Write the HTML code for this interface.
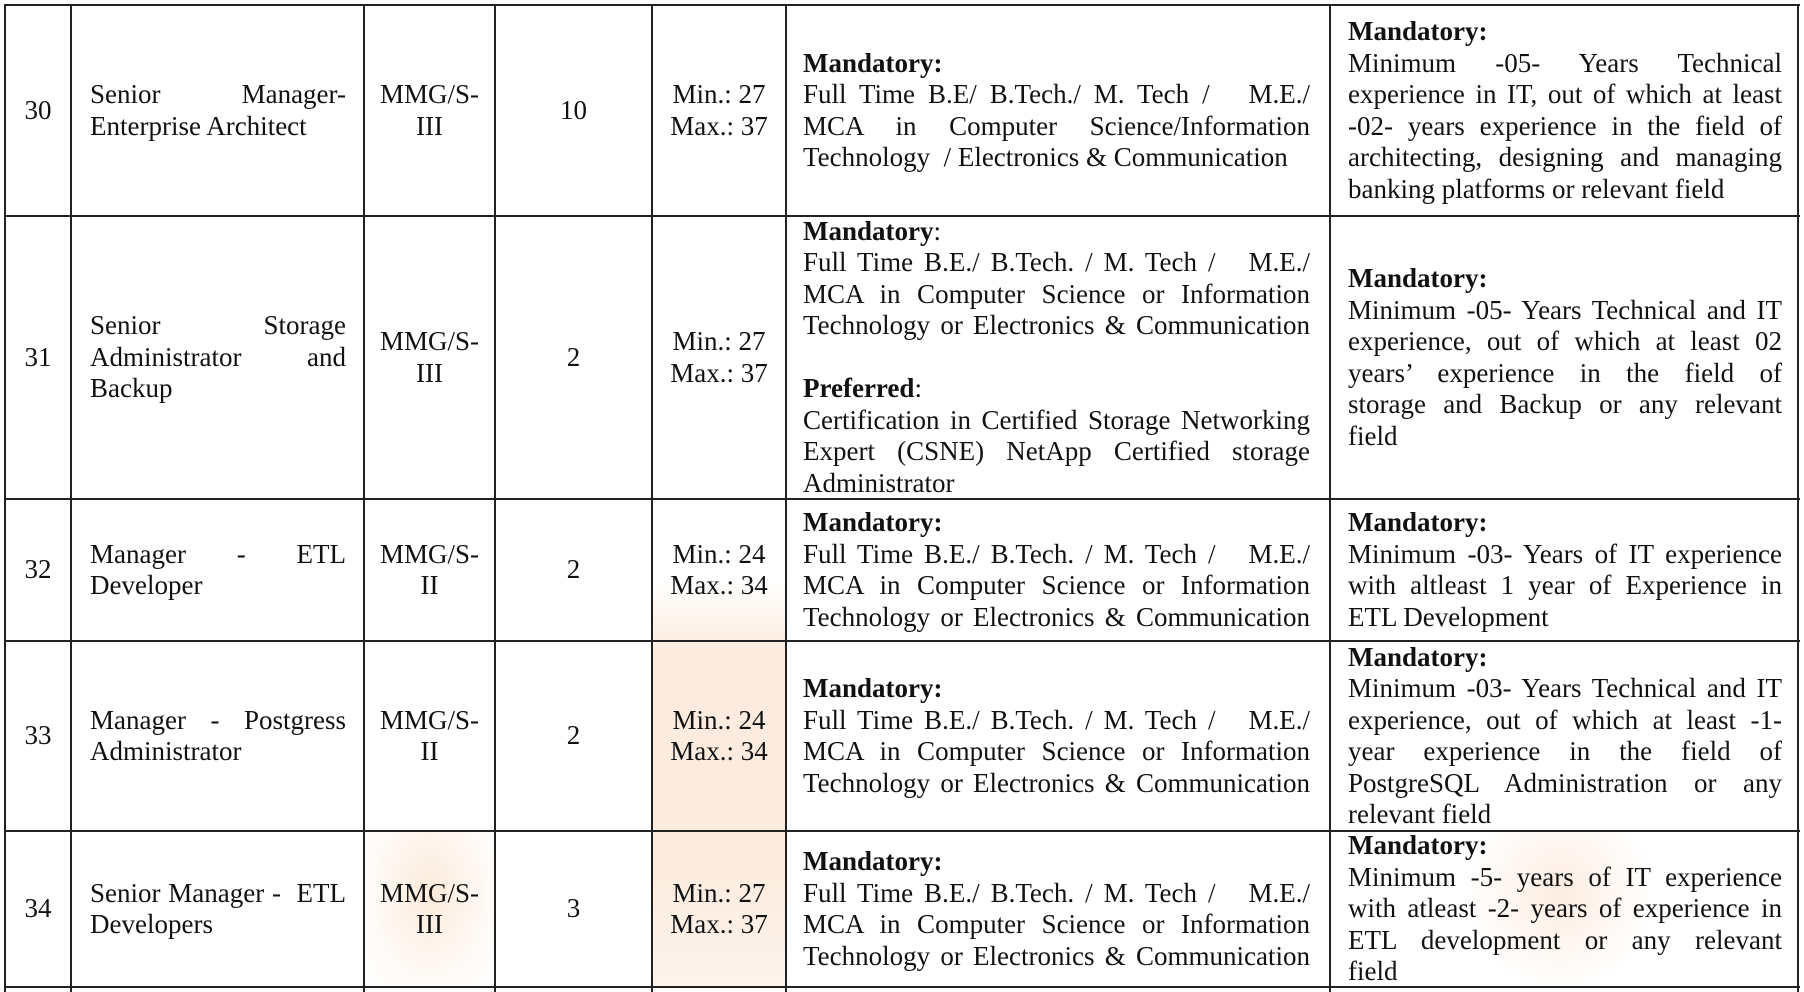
<!DOCTYPE html>
<html><head><meta charset="utf-8">
<style>
html,body{margin:0;padding:0;background:#fff;}
body{width:1804px;height:992px;position:relative;overflow:hidden;font-family:"Liberation Serif",serif;font-size:27px;color:#111;}
.c{position:absolute;display:flex;flex-direction:column;justify-content:center;box-sizing:border-box;line-height:31.5px;}
.ctr{align-items:center;text-align:center;}
.j{text-align:justify;text-align-last:justify;white-space:nowrap;}
.l{text-align:left;white-space:nowrap;}
b{font-weight:bold;}
.h{position:absolute;height:2px;background:#222;left:4px;width:1796px;}
.v{position:absolute;width:2px;background:#222;top:4px;height:988px;}
.blob{position:absolute;}
</style></head><body>
<div class="blob" style="left:653px;top:580px;width:132px;height:407px;background:linear-gradient(180deg,rgba(250,220,195,0) 0%,rgba(250,222,200,.6) 18%,rgba(250,225,205,.65) 70%,rgba(250,230,215,.45) 100%);"></div>
<div class="blob" style="left:366px;top:832px;width:128px;height:155px;background:radial-gradient(ellipse at 50% 40%,rgba(250,215,185,.5),rgba(250,230,210,.15) 70%,rgba(255,255,255,0) 100%);"></div>
<div class="blob" style="left:1470px;top:832px;width:180px;height:155px;background:radial-gradient(ellipse at 50% 40%,rgba(250,210,180,.4),rgba(255,255,255,0) 75%);"></div>

<div class="h" style="top:4px"></div>
<div class="h" style="top:215px"></div>
<div class="h" style="top:498px"></div>
<div class="h" style="top:640px"></div>
<div class="h" style="top:830px"></div>
<div class="h" style="top:986px"></div>
<div class="v" style="left:4px"></div>
<div class="v" style="left:70px"></div>
<div class="v" style="left:363px"></div>
<div class="v" style="left:494px"></div>
<div class="v" style="left:651px"></div>
<div class="v" style="left:785px"></div>
<div class="v" style="left:1329px"></div>
<div class="v" style="left:1797px"></div>

<div class="c ctr" style="left:6px;top:6px;width:64px;height:209px">30</div>
<div class="c" style="left:90px;top:6px;width:256px;height:209px"><div class="j">Senior Manager-</div><div class="l">Enterprise Architect</div></div>
<div class="c ctr" style="left:365px;top:6px;width:129px;height:209px"><div>MMG/S-</div><div>III</div></div>
<div class="c ctr" style="left:496px;top:6px;width:155px;height:209px">10</div>
<div class="c ctr" style="left:653px;top:6px;width:132px;height:209px"><div>Min.: 27</div><div>Max.: 37</div></div>
<div class="c" style="left:803px;top:6px;width:507px;height:209px"><div class="l"><b>Mandatory:</b></div><div class="j">Full Time B.E/ B.Tech./ M. Tech / &nbsp;&nbsp;M.E./</div><div class="j">MCA in Computer Science/Information</div><div class="l">Technology &nbsp;/ Electronics &amp; Communication</div></div>
<div class="c" style="left:1348px;top:6px;width:434px;height:209px"><div class="l"><b>Mandatory:</b></div><div class="j">Minimum -05- Years Technical</div><div class="j">experience in IT, out of which at least</div><div class="j">-02- years experience in the field of</div><div class="j">architecting, designing and managing</div><div class="l">banking platforms or relevant field</div></div>

<div class="c ctr" style="left:6px;top:217px;width:64px;height:281px">31</div>
<div class="c" style="left:90px;top:217px;width:256px;height:281px"><div class="j">Senior Storage</div><div class="j">Administrator and</div><div class="l">Backup</div></div>
<div class="c ctr" style="left:365px;top:217px;width:129px;height:281px"><div>MMG/S-</div><div>III</div></div>
<div class="c ctr" style="left:496px;top:217px;width:155px;height:281px">2</div>
<div class="c ctr" style="left:653px;top:217px;width:132px;height:281px"><div>Min.: 27</div><div>Max.: 37</div></div>
<div class="c" style="left:803px;top:217px;width:507px;height:281px"><div class="l"><b>Mandatory</b>:</div><div class="j">Full Time B.E./ B.Tech. / M. Tech / &nbsp;&nbsp;M.E./</div><div class="j">MCA in Computer Science or Information</div><div class="j">Technology or Electronics &amp; Communication</div><div class="l">&nbsp;</div><div class="l"><b>Preferred</b>:</div><div class="j">Certification in Certified Storage Networking</div><div class="j">Expert (CSNE) NetApp Certified storage</div><div class="l">Administrator</div></div>
<div class="c" style="left:1348px;top:217px;width:434px;height:281px"><div class="l"><b>Mandatory:</b></div><div class="j">Minimum -05- Years Technical and IT</div><div class="j">experience, out of which at least 02</div><div class="j">years’ experience in the field of</div><div class="j">storage and Backup or any relevant</div><div class="l">field</div></div>

<div class="c ctr" style="left:6px;top:500px;width:64px;height:140px">32</div>
<div class="c" style="left:90px;top:500px;width:256px;height:140px"><div class="j">Manager - ETL</div><div class="l">Developer</div></div>
<div class="c ctr" style="left:365px;top:500px;width:129px;height:140px"><div>MMG/S-</div><div>II</div></div>
<div class="c ctr" style="left:496px;top:500px;width:155px;height:140px">2</div>
<div class="c ctr" style="left:653px;top:500px;width:132px;height:140px"><div>Min.: 24</div><div>Max.: 34</div></div>
<div class="c" style="left:803px;top:500px;width:507px;height:140px"><div class="l"><b>Mandatory:</b></div><div class="j">Full Time B.E./ B.Tech. / M. Tech / &nbsp;&nbsp;M.E./</div><div class="j">MCA in Computer Science or Information</div><div class="j">Technology or Electronics &amp; Communication</div></div>
<div class="c" style="left:1348px;top:500px;width:434px;height:140px"><div class="l"><b>Mandatory:</b></div><div class="j">Minimum -03- Years of IT experience</div><div class="j">with altleast 1 year of Experience in</div><div class="l">ETL Development</div></div>

<div class="c ctr" style="left:6px;top:642px;width:64px;height:188px">33</div>
<div class="c" style="left:90px;top:642px;width:256px;height:188px"><div class="j">Manager - Postgress</div><div class="l">Administrator</div></div>
<div class="c ctr" style="left:365px;top:642px;width:129px;height:188px"><div>MMG/S-</div><div>II</div></div>
<div class="c ctr" style="left:496px;top:642px;width:155px;height:188px">2</div>
<div class="c ctr" style="left:653px;top:642px;width:132px;height:188px"><div>Min.: 24</div><div>Max.: 34</div></div>
<div class="c" style="left:803px;top:642px;width:507px;height:188px"><div class="l"><b>Mandatory:</b></div><div class="j">Full Time B.E./ B.Tech. / M. Tech / &nbsp;&nbsp;M.E./</div><div class="j">MCA in Computer Science or Information</div><div class="j">Technology or Electronics &amp; Communication</div></div>
<div class="c" style="left:1348px;top:642px;width:434px;height:188px"><div class="l"><b>Mandatory:</b></div><div class="j">Minimum -03- Years Technical and IT</div><div class="j">experience, out of which at least -1-</div><div class="j">year experience in the field of</div><div class="j">PostgreSQL Administration or any</div><div class="l">relevant field</div></div>

<div class="c ctr" style="left:6px;top:832px;width:64px;height:154px">34</div>
<div class="c" style="left:90px;top:832px;width:256px;height:154px"><div class="j">Senior Manager - &nbsp;ETL</div><div class="l">Developers</div></div>
<div class="c ctr" style="left:365px;top:832px;width:129px;height:154px"><div>MMG/S-</div><div>III</div></div>
<div class="c ctr" style="left:496px;top:832px;width:155px;height:154px">3</div>
<div class="c ctr" style="left:653px;top:832px;width:132px;height:154px"><div>Min.: 27</div><div>Max.: 37</div></div>
<div class="c" style="left:803px;top:832px;width:507px;height:154px"><div class="l"><b>Mandatory:</b></div><div class="j">Full Time B.E./ B.Tech. / M. Tech / &nbsp;&nbsp;M.E./</div><div class="j">MCA in Computer Science or Information</div><div class="j">Technology or Electronics &amp; Communication</div></div>
<div class="c" style="left:1348px;top:832px;width:434px;height:154px"><div class="l"><b>Mandatory:</b></div><div class="j">Minimum -5- years of IT experience</div><div class="j">with atleast -2- years of experience in</div><div class="j">ETL development or any relevant</div><div class="l">field</div></div>
</body></html>
